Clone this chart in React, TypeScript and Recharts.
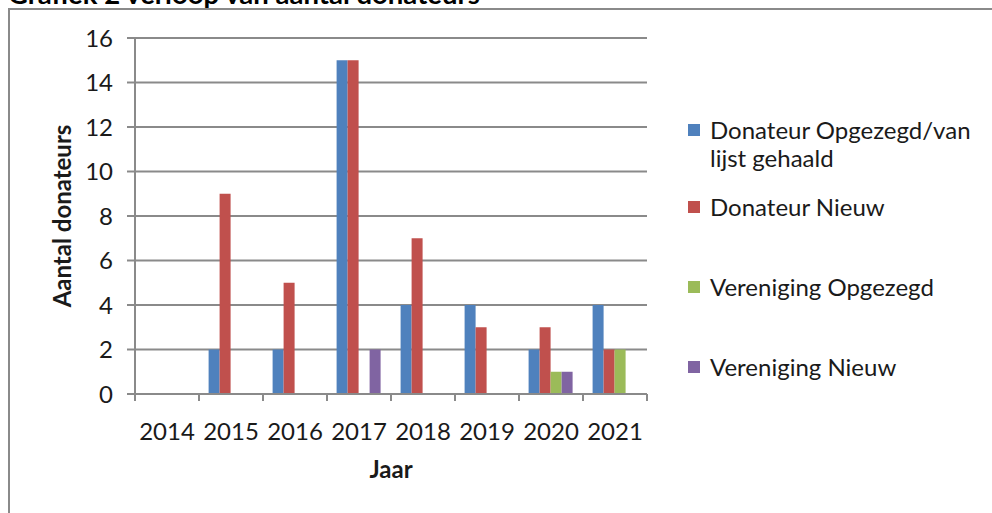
import { BarChart, Bar, XAxis, YAxis, CartesianGrid, Legend } from "recharts"

const FONT = "Lato, 'Open Sans', sans-serif"
const AXIS = "#8a8a8a"
const INK = "#1a1a1a"

const years = ["2014", "2015", "2016", "2017", "2018", "2019", "2020", "2021"]
const donateurOpgezegd = [0, 2, 2, 15, 4, 4, 2, 4]
const donateurNieuw = [0, 9, 5, 15, 7, 3, 3, 2]
const verenigingOpgezegd = [0, 0, 0, 0, 0, 0, 1, 2]
const verenigingNieuw = [0, 0, 0, 2, 0, 0, 1, 0]
const yTicks = [0, 2, 4, 6, 8, 10, 12, 14, 16]

const series = [
  { key: "donOpg", name: "Donateur Opgezegd/van lijst gehaald", color: "#4F81BD", values: donateurOpgezegd },
  { key: "donNieuw", name: "Donateur Nieuw", color: "#C0504D", values: donateurNieuw },
  { key: "verOpg", name: "Vereniging Opgezegd", color: "#9BBB59", values: verenigingOpgezegd },
  { key: "verNieuw", name: "Vereniging Nieuw", color: "#8064A2", values: verenigingNieuw },
]

const data = years.map((year, i) => {
  const row: Record<string, string | number> = { year }
  series.forEach((s) => (row[s.key] = s.values[i]))
  return row
})

// excel-style ticks: marks sit between the categories, label in the middle
function YearTick(props: any) {
  const { x, y, payload, index } = props
  const half = payload?.offset || 32
  const last = index === years.length - 1
  return (
    <g>
      <line x1={x - half} x2={x - half} y1={y} y2={y + 7} stroke={AXIS} strokeWidth={2} />
      {last && <line x1={x + half} x2={x + half} y1={y} y2={y + 7} stroke={AXIS} strokeWidth={2} />}
      <text x={x} y={y + 46} textAnchor="middle" fontSize={24} fill={INK} fontFamily={FONT}>
        {payload.value}
      </text>
    </g>
  )
}

function LegendBox() {
  return (
    <div style={{ fontFamily: FONT, color: INK }}>
      {series.map((s, i) => (
        <div key={s.key} style={{ display: "flex", alignItems: "flex-start", height: i === 0 ? 77 : 80 }}>
          <div style={{ width: 12, height: 12, background: s.color, marginTop: 8, marginRight: 10, flex: "none" }} />
          <div style={{ fontSize: 24, lineHeight: "28px", width: 275 }}>{s.name}</div>
        </div>
      ))}
    </div>
  )
}

export default function App() {
  return (
    <div style={{ position: "fixed", left: 0, top: 0, width: 992, height: 513, background: "#fff", overflow: "hidden" }}>
      {/* title sits partly above the page edge, as in the original screenshot */}
      <div
        style={{
          position: "absolute", left: 8, top: -20, fontFamily: FONT, fontWeight: 700,
          fontSize: 27.5, lineHeight: "27px", color: "#000", whiteSpace: "nowrap",
        }}
      >
        Grafiek 2 verloop van aantal donateurs
      </div>
      <div
        style={{
          position: "absolute", left: 8, top: 8, width: 1000, height: 600,
          borderTop: `2px solid ${AXIS}`, borderLeft: `2px solid ${AXIS}`,
        }}
      />
      <div style={{ position: "absolute", left: 0, top: 0 }}>
        <BarChart
          width={992}
          height={513}
          data={data}
          margin={{ top: 38, right: 345, bottom: 1, left: 40 }}
          barCategoryGap="15%"
          barGap={0}
        >
          <CartesianGrid vertical={false} stroke={AXIS} strokeWidth={2} />
          <XAxis
            dataKey="year"
            height={118}
            axisLine={{ stroke: AXIS, strokeWidth: 2 }}
            tickLine={false}
            tickSize={0}
            tickMargin={0}
            interval={0}
            tick={<YearTick />}
            label={{
              value: "Jaar", position: "insideBottom", offset: 34,
              style: { fontSize: 24, fontWeight: 700, fill: INK, fontFamily: FONT },
            }}
          />
          <YAxis
            width={95}
            domain={[0, 16]}
            ticks={yTicks}
            interval={0}
            axisLine={{ stroke: AXIS, strokeWidth: 2 }}
            tickLine={{ stroke: AXIS, strokeWidth: 2 }}
            tickSize={8}
            tickMargin={14}
            tick={{ fontSize: 24, fill: INK, fontFamily: FONT }}
            label={{
              value: "Aantal donateurs", angle: -90, position: "insideLeft", offset: 22,
              style: { textAnchor: "middle", fontSize: 24, fontWeight: 700, fill: INK, fontFamily: FONT },
            }}
          />
          {series.map((s) => (
            <Bar key={s.key} dataKey={s.key} name={s.name} fill={s.color} isAnimationActive={false} />
          ))}
          <Legend
            layout="vertical"
            align="center"
            verticalAlign="middle"
            wrapperStyle={{ left: 688, top: 116, width: 300 }}
            content={() => <LegendBox />}
          />
        </BarChart>
      </div>
    </div>
  )
}
